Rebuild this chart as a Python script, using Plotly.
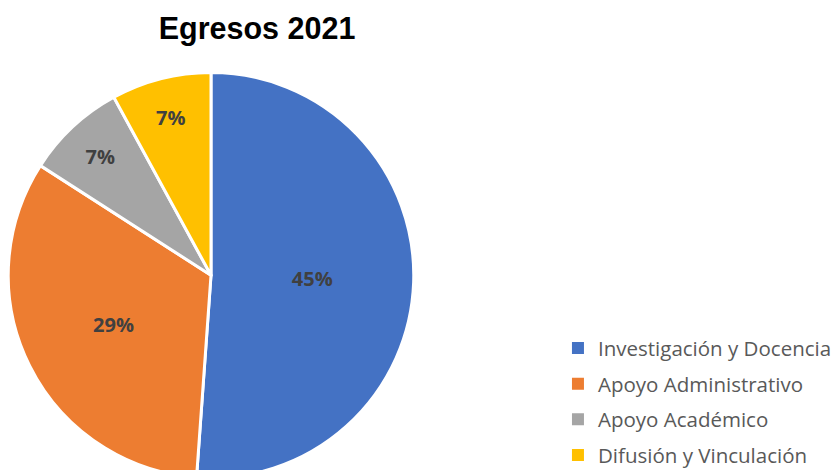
import plotly.graph_objects as go

categorias = ['Investigación y Docencia', 'Apoyo Administrativo',
              'Apoyo Académico', 'Difusión y Vinculación']
valores = [45, 29, 7, 7]
colores = ['#4472C4', '#ED7D31', '#A5A5A5', '#FFC000']

fig = go.Figure()

fig.add_trace(go.Pie(
    labels=categorias,
    values=valores,
    sort=False,
    direction='clockwise',
    rotation=0,
    marker=dict(colors=colores, line=dict(color='white', width=3)),
    texttemplate='%{value}%',
    textposition='inside',
    insidetextorientation='horizontal',
    textfont=dict(family='Open Sans', size=20, color='#404040', weight='bold'),
    domain=dict(x=[0.0, 0.4839], y=[0.0, 0.8628]),
    hoverinfo='label+value',
    showlegend=False,
))

# leyenda con separacion entre entradas (como en Excel)
for cat, col in zip(categorias, colores):
    fig.add_trace(go.Scatter(
        x=[None], y=[None], mode='markers', name=cat, legendgroup=cat,
        marker=dict(symbol='square', size=9, color=col),
        hoverinfo='skip',
    ))

fig.update_layout(
    width=839,
    height=470,
    paper_bgcolor='white',
    plot_bgcolor='white',
    margin=dict(l=0, r=0, t=0, b=0),
    title=dict(
        text='<b>Egresos 2021</b>',
        x=0.2968, xanchor='center',
        y=0.957, yanchor='middle',
        font=dict(family='Liberation Sans', size=30.5, color='black'),
    ),
    xaxis=dict(visible=False),
    yaxis=dict(visible=False),
    showlegend=True,
    legend=dict(
        x=0.6555, xanchor='left',
        y=0.006, yanchor='bottom',
        font=dict(family='Open Sans', size=20.5, color='#595959'),
        itemsizing='constant',
        tracegroupgap=6,
        bgcolor='rgba(0,0,0,0)',
    ),
)

fig.write_html("out.html")
